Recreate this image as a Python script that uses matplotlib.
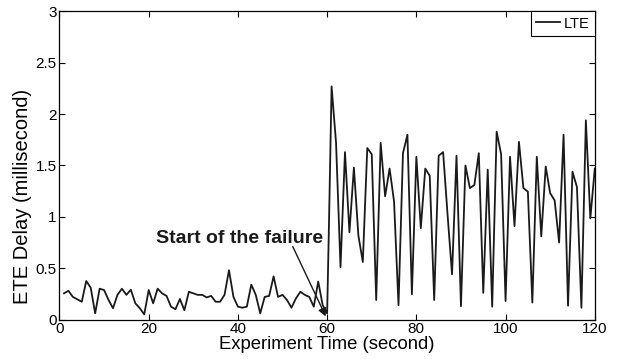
import matplotlib

matplotlib.use("Agg")
import matplotlib.pyplot as plt

plt.rcParams["font.family"] = ["Liberation Sans", "DejaVu Sans"]

# ETE delay (ms), one sample per second
time_s = list(range(1, 61)) + [60.4] + list(range(61, 121))
delay_ms = [
    # 1-20
    0.255, 0.28, 0.22, 0.197, 0.173, 0.375, 0.31, 0.06, 0.30, 0.287,
    0.19, 0.11, 0.24, 0.30, 0.24, 0.29, 0.158, 0.11, 0.05, 0.287,
    # 21-40
    0.158, 0.30, 0.255, 0.23, 0.125, 0.10, 0.20, 0.09, 0.27, 0.255,
    0.24, 0.24, 0.215, 0.23, 0.173, 0.173, 0.24, 0.48, 0.22, 0.125,
    # 41-60
    0.115, 0.125, 0.34, 0.24, 0.06, 0.22, 0.23, 0.42, 0.22, 0.24,
    0.19, 0.115, 0.205, 0.27, 0.24, 0.22, 0.125, 0.37, 0.14, 0.06,
    # failure onset kink
    0.90,
    # 61-80
    2.27, 1.72, 0.51, 1.63, 0.85, 1.48, 0.82, 0.56, 1.67, 1.61,
    0.19, 1.72, 1.20, 1.47, 1.15, 0.14, 1.62, 1.80, 0.245, 1.585,
    # 81-100
    0.89, 1.47, 1.40, 0.19, 1.595, 1.63, 1.02, 0.44, 1.595, 0.13,
    1.50, 1.28, 1.31, 1.62, 0.26, 1.46, 0.125, 1.83, 1.61, 0.18,
    # 101-120
    1.585, 0.91, 1.73, 1.28, 1.245, 0.165, 1.585, 0.81, 1.49, 1.23,
    1.16, 0.75, 1.80, 0.135, 1.44, 1.29, 0.115, 1.94, 0.985, 1.47,
]

x_ticks = [0, 20, 40, 60, 80, 100, 120]
y_ticks = [0, 0.5, 1, 1.5, 2, 2.5, 3]

fig = plt.figure(figsize=(6.17, 3.59), dpi=100)
ax = fig.add_axes([0.0964, 0.110, 0.8676, 0.858])

ax.plot(time_s, delay_ms, color="#1a1a1a", lw=1.3, label="LTE")

# annotation: label and arrow pointing at the failure onset
ax.text(59.2, 0.79, "Start of the failure", ha="right", va="center",
        fontsize=14, fontweight="bold", color="#1a1a1a")
ax.annotate(
    "", xy=(59.7, 0.03), xytext=(52.3, 0.71),
    arrowprops=dict(arrowstyle="-|>", color="#1a1a1a", lw=1.0,
                    mutation_scale=12, shrinkA=0, shrinkB=0),
)

ax.set_xlim(0, 120)
ax.set_ylim(0, 3)
ax.set_xticks(x_ticks)
ax.set_yticks(y_ticks)
ax.set_yticklabels(["0", "0.5", "1", "1.5", "2", "2.5", "3"])
ax.tick_params(direction="in", length=4, width=0.8, top=True, right=True,
               labelsize=11, pad=2)
for sp in ax.spines.values():
    sp.set_linewidth(0.9)

ax.set_xlabel("Experiment Time (second)", fontsize=13.3, labelpad=0)
ax.set_ylabel("ETE Delay (millisecond)", fontsize=14.5)
ax.yaxis.set_label_coords(-0.052, 0.40)

leg = ax.legend(loc="upper right", borderaxespad=0, fontsize=10.5,
                handlelength=1.6, handletextpad=0.3, borderpad=0.35,
                fancybox=False, framealpha=1)
leg.get_frame().set_edgecolor("black")
leg.get_frame().set_linewidth(0.8)

fig.savefig("out.png", dpi=100)
